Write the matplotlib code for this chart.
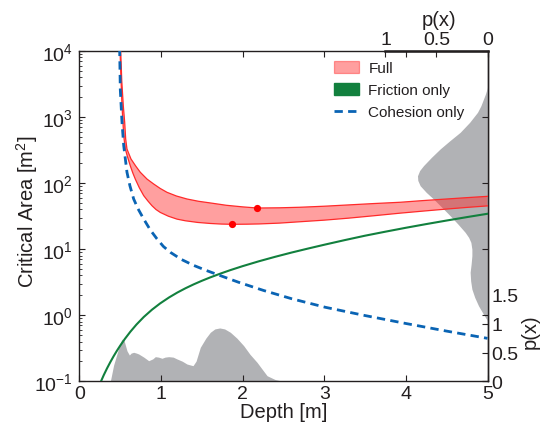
import numpy as np
import matplotlib
matplotlib.use("Agg")
import matplotlib.pyplot as plt
from matplotlib.patches import Patch
from matplotlib.lines import Line2D

INK = '#231f20'
plt.rcParams['font.family'] = ['Liberation Sans', 'DejaVu Sans']
plt.rcParams['mathtext.fontset'] = 'custom'
plt.rcParams['mathtext.rm'] = 'Liberation Sans'
plt.rcParams['mathtext.it'] = 'Liberation Sans:italic'
plt.rcParams['mathtext.bf'] = 'Liberation Sans:bold'
for k in ['text.color', 'axes.labelcolor', 'xtick.color', 'ytick.color', 'axes.edgecolor']:
    plt.rcParams[k] = INK

# ---------------- data ----------------
# Full model: lower and upper bounds of critical area band
full_lo_depth = [0.497, 0.51, 0.523, 0.544, 0.563, 0.59, 0.625, 0.655, 0.686, 0.735, 0.789,
                 0.84, 0.89, 0.94, 0.992, 1.09, 1.197, 1.3, 1.45, 1.605, 1.74, 1.874, 2.05,
                 2.2, 2.45, 2.7, 3.0, 3.3, 3.6, 3.93, 4.2, 4.5, 4.75, 5.0]
full_lo_area = [12000, 3981, 1479, 525, 331, 251, 182, 143, 115, 85.1, 64.6,
                53.7, 45.5, 39.8, 36.0, 31.6, 28.5, 26.9, 25.4, 24.5, 24.0, 23.8, 23.9,
                24.1, 24.8, 26.0, 27.5, 29.5, 32.0, 35.1, 37.6, 40.5, 42.9, 45.2]
full_hi_depth = [0.505, 0.52, 0.539, 0.556, 0.568, 0.584, 0.633, 0.69, 0.747, 0.83, 0.911,
                 0.99, 1.074, 1.19, 1.319, 1.46, 1.605, 1.8, 2.0, 2.18, 2.45, 2.7, 3.0,
                 3.3, 3.6, 3.93, 4.2, 4.5, 4.75, 5.0]
full_hi_area = [12000, 3548, 1479, 832, 466, 328, 232, 182, 146, 115, 97.0,
                83.2, 72.6, 63.8, 57.5, 53.1, 50.1, 46.2, 43.7, 42.0, 42.3, 43.1, 44.7,
                46.8, 49.0, 51.3, 54.3, 57.5, 60.3, 63.1]
# marked minima
dot_depth = [1.874, 2.18]
dot_area = [23.8, 42.0]

# Friction only
fric_depth = [0.266, 0.30, 0.34, 0.38, 0.42, 0.46, 0.50, 0.56, 0.625, 0.70, 0.79, 0.89,
              0.99, 1.1, 1.2, 1.3, 1.4, 1.5, 1.6, 1.73, 1.85, 2.0, 2.2, 2.4, 2.6, 2.8,
              3.0, 3.25, 3.5, 3.75, 4.0, 4.25, 4.5, 4.75, 5.0]
fric_area = [0.1, 0.1245, 0.1574, 0.1954, 0.2393, 0.2891, 0.3451, 0.4416, 0.5623, 0.7228,
             0.9419, 1.213, 1.510, 1.862, 2.203, 2.559, 2.931, 3.319, 3.724, 4.276, 4.819,
             5.534, 6.561, 7.674, 8.892, 10.21, 11.67, 13.71, 16.00, 18.41, 21.09, 23.99,
             27.16, 30.62, 34.36]

# Cohesion only
coh_depth = [0.494, 0.502, 0.523, 0.544, 0.584, 0.62, 0.666, 0.72, 0.789, 0.87, 0.952, 1.03,
             1.115, 1.25, 1.4, 1.55, 1.727, 1.95, 2.258, 2.6, 3.013, 3.5, 4.0, 4.5, 5.0]
coh_area = [11220, 2630, 832, 369, 146, 91.2, 57.5, 40.7, 28.6, 19.5, 14.3, 11.0,
            8.97, 7.0, 5.69, 4.79, 3.98, 3.16, 2.37, 1.78, 1.32, 0.989, 0.750, 0.575, 0.447]

# depth distribution p(x)
pdep_depth = [0.38, 0.42, 0.46, 0.50, 0.523, 0.55, 0.584, 0.613, 0.635, 0.666, 0.70, 0.727,
              0.79, 0.85, 0.90, 0.931, 0.97, 1.013, 1.05, 1.095, 1.15, 1.197, 1.26, 1.319,
              1.37, 1.393, 1.43, 1.482, 1.55, 1.605, 1.66, 1.72, 1.78, 1.85, 1.93, 2.013,
              2.09, 2.177, 2.24, 2.3, 2.4, 2.5, 5.0]
pdep_p = [0, 0.28, 0.47, 0.66, 0.735, 0.70, 0.53, 0.457, 0.49, 0.504, 0.49, 0.475,
          0.42, 0.358, 0.39, 0.428, 0.42, 0.40, 0.42, 0.428, 0.42, 0.388, 0.35, 0.30,
          0.28, 0.272, 0.35, 0.59, 0.75, 0.852, 0.91, 0.927, 0.91, 0.852, 0.75, 0.62,
          0.47, 0.33, 0.21, 0.097, 0.03, 0, 0]

# area distribution p(A)
parea_area = [2818, 2512, 2239, 1879, 1479, 1180, 832, 587, 437, 329, 245, 184, 155, 129,
              110, 91.4, 72.4, 57.5, 42.7, 32.1, 24.0, 18.0, 15.1, 12.7, 10.0, 7.96, 6.03,
              4.47, 3.31, 2.49, 1.86, 1.39, 1.07, 0.826]
parea_p = [0, 0.01, 0.02, 0.039, 0.065, 0.098, 0.175, 0.268, 0.37, 0.464, 0.55, 0.627, 0.665,
           0.686, 0.683, 0.66, 0.60, 0.529, 0.445, 0.366, 0.29, 0.219, 0.185, 0.163, 0.153,
           0.153, 0.16, 0.17, 0.165, 0.153, 0.125, 0.088, 0.045, 0]

legend_labels = ['Full', 'Friction only', 'Cohesion only']

# ---------------- colours ----------------
RED = '#ff2a2a'
PINK_A = 0.45
GREEN = '#12803e'
BLUE = '#0a64b4'
GRAY = '#b1b2b5'

W, H = 541, 431
fig = plt.figure(figsize=(W / 100, H / 100), dpi=100)
L, R, T, B = 79.3, 487.5, 52.0, 382.3
ax = fig.add_axes([L / W, 1 - B / H, (R - L) / W, (B - T) / H])

FS = 14.5     # axis labels
TFS = 14.0    # tick labels

# twin axes for distributions
axr = ax.twinx()
axt = ax.twiny()

# depth distribution (bottom)
axr.fill_between(pdep_depth, 0, pdep_p, color=GRAY, lw=0)
axr.set_ylim(0, 5.74)
axr.set_yticks([0, 0.5, 1, 1.5])
axr.set_yticklabels(['0', '0.5', '1', '1.5'])
axr.tick_params(axis='y', direction='in', length=4.5, width=0.8, labelsize=TFS, pad=3)
for s in ['top', 'bottom', 'left']:
    axr.spines[s].set_visible(False)
axr.spines['right'].set_linewidth(1.0)

# area distribution (right)
axt.fill_betweenx(parea_area, 0, parea_p, color=GRAY, lw=0)
axt.set_xlim(4, 0)
axt.set_xticks([1, 0.5, 0])
axt.set_xticklabels(['1', '0.5', '0'])
axt.tick_params(axis='x', direction='in', length=4.5, width=0.8, labelsize=TFS, pad=2)
for s in ['right', 'bottom', 'left']:
    axt.spines[s].set_visible(False)
axt.spines['top'].set_bounds(1, 0)
axt.spines['top'].set_linewidth(1.8)

# main axes on top
ax.set_zorder(3)
ax.patch.set_visible(False)

# Full band
poly_x = np.concatenate([full_lo_depth, full_hi_depth[::-1]])
poly_y = np.concatenate([full_lo_area, full_hi_area[::-1]])
ax.fill(poly_x, poly_y, facecolor=RED, alpha=PINK_A, edgecolor='none', zorder=2)
ax.plot(full_lo_depth, full_lo_area, color=RED, lw=0.9, zorder=3)
ax.plot(full_hi_depth, full_hi_area, color=RED, lw=0.9, zorder=3)
ax.plot(dot_depth, dot_area, 'o', color='#ff0000', ms=5.2, mec='none', zorder=5)

# Friction only
ax.plot(fric_depth, fric_area, color=GREEN, lw=1.5, zorder=4)
# Cohesion only
ax.plot(coh_depth, coh_area, color=BLUE, lw=2.0, dashes=(3.0, 1.9), zorder=4)

ax.set_yscale('log')
ax.set_xlim(0, 5)
ax.set_ylim(0.1, 1e4)
ax.set_xticks([0, 1, 2, 3, 4, 5])
ax.set_yticks([0.1, 1, 10, 100, 1000, 10000])
ax.tick_params(which='major', direction='in', length=4.5, width=0.8, labelsize=TFS,
               top=True, right=True)
ax.tick_params(which='minor', direction='in', length=2.5, width=0.6, left=True, right=False)
ax.tick_params(axis='x', which='minor', bottom=False, top=False)
ax.tick_params(axis='x', pad=3)
ax.tick_params(axis='y', pad=4.5)
for s in ax.spines.values():
    s.set_linewidth(1.0)

ax.set_xlabel('Depth [m]', fontsize=FS, labelpad=0)
ax.set_ylabel('Critical Area [m$^2$]', fontsize=FS)
ax.yaxis.set_label_coords(-0.097, 0.515)

# axis labels for distributions
fig.text(439 / W, 1 - 21 / H, 'p(x)', fontsize=FS, ha='center', va='center')
fig.text(530 / W, 1 - 332 / H, 'p(x)', fontsize=FS, ha='center', va='center', rotation=90)

# legend
handles = [Patch(facecolor=RED, alpha=PINK_A, edgecolor=RED, lw=0.9),
           Patch(facecolor=GREEN, edgecolor=GREEN),
           Line2D([], [], color=BLUE, lw=2.0, dashes=(3.0, 1.9))]
leg = ax.legend(handles, legend_labels, loc='upper left',
                bbox_to_anchor=(334 / W, 1 - 62 / H), bbox_transform=fig.transFigure,
                frameon=False, fontsize=11, borderpad=0, borderaxespad=0,
                handlelength=1.65, handleheight=0.85, handletextpad=0.6,
                labelspacing=0.5)
for t in leg.get_texts():
    t.set_color(INK)

fig.savefig('out.png', dpi=100)
